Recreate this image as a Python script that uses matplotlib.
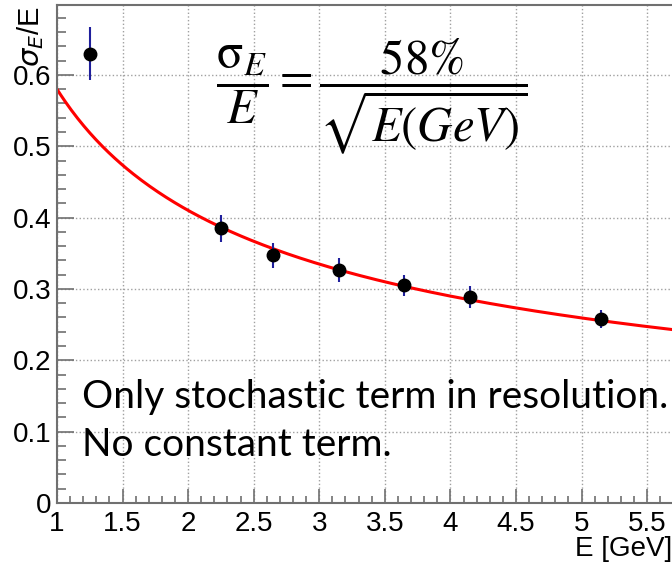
import numpy as np
import matplotlib
matplotlib.use("Agg")
import matplotlib.pyplot as plt
from matplotlib.ticker import MultipleLocator

# measured points
energy = [1.25, 2.25, 2.65, 3.15, 3.65, 4.15, 5.15]
resol = [0.630, 0.385, 0.347, 0.327, 0.305, 0.289, 0.258]
resol_err = [0.037, 0.019, 0.017, 0.017, 0.015, 0.015, 0.013]
energy_err = [0.045, 0.045, 0.045, 0.045, 0.045, 0.045, 0.045]

# fit: stochastic term only
stoch = 0.58

plt.rcParams['font.family'] = ['Liberation Sans', 'DejaVu Sans']
plt.rcParams['mathtext.fontset'] = 'custom'
plt.rcParams['mathtext.rm'] = 'Liberation Sans'
plt.rcParams['mathtext.it'] = 'Liberation Sans:italic'

fig = plt.figure(figsize=(6.72, 5.66), dpi=100)
W, H = 672, 566
ax = fig.add_axes([57 / W, (H - 503) / H, 1 - 57 / W, (503 - 5) / H])

xf = np.linspace(1, 5.7, 300)
ax.plot(xf, stoch / np.sqrt(xf), color='#ff0000', lw=2.2, zorder=2)

ax.errorbar(energy, resol, yerr=resol_err, xerr=energy_err, fmt='o', color='black',
            ecolor='#1f1f9c', elinewidth=1.5, capsize=0, markersize=9, zorder=3)

ax.set_xlim(1, 5.69)
ax.set_ylim(0, 0.698)
ax.xaxis.set_major_locator(MultipleLocator(0.5))
ax.xaxis.set_minor_locator(MultipleLocator(0.1))
ax.yaxis.set_major_locator(MultipleLocator(0.1))
ax.yaxis.set_minor_locator(MultipleLocator(0.02))
ax.xaxis.set_major_formatter(plt.FuncFormatter(lambda v, p: f'{v:g}'))
ax.yaxis.set_major_formatter(plt.FuncFormatter(lambda v, p: f'{v:g}'))

ax.tick_params(axis='both', which='both', direction='in', color='#707070', width=1.2, labelsize=20)
ax.tick_params(axis='x', which='major', length=10, pad=6)
ax.tick_params(axis='x', which='minor', length=5)
ax.tick_params(axis='y', which='major', length=12, pad=4)
ax.tick_params(axis='y', which='minor', length=6.5)
ax.grid(True, which='major', color='#a0a0a0', ls=':', lw=1)

for s in ['left', 'bottom', 'top']:
    ax.spines[s].set_color('#707070')
    ax.spines[s].set_linewidth(1.5)
ax.spines['right'].set_visible(False)

fig.text(31 / W, 1 - 7 / H, r'$\sigma_{E}$/E', rotation=90, ha='center', va='top',
         fontsize=21, math_fontfamily='dejavusans')
fig.text(1.0, 1 - 549 / H, 'E [GeV]', ha='right', va='center', fontsize=20)

ax.text(1.19, 0.115, 'Only stochastic term in resolution.\nNo constant term.',
        fontsize=28, family=['Lato', 'DejaVu Sans'], ha='left', va='center', linespacing=1.4)

fig.text(216 / W, 1 - 96 / H, r'$\dfrac{\mathrm{\sigma}_{E}}{E} = \dfrac{58\%}{\sqrt{E(GeV)}}$',
         fontsize=35, ha='left', va='center', math_fontfamily='stix')

fig.savefig('out.png', dpi=100)
